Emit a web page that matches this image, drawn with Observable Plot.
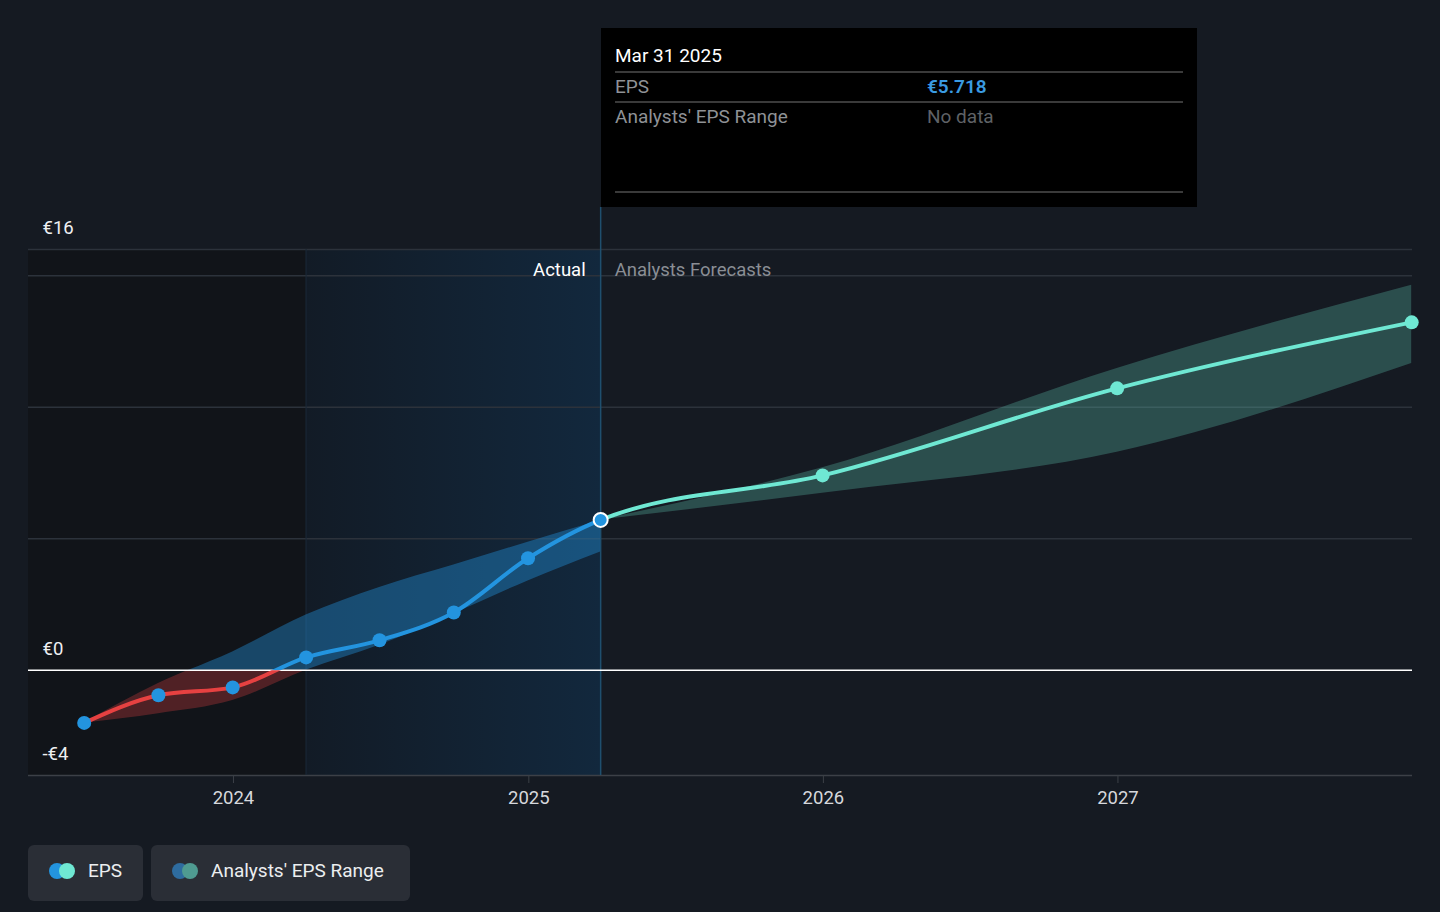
<!DOCTYPE html>
<html><head><meta charset="utf-8">
<script src="https://cdn.jsdelivr.net/npm/d3@7"></script>
<script src="https://cdn.jsdelivr.net/npm/@observablehq/plot@0.6"></script>
<style>
html,body{margin:0;padding:0;background:#151a22;width:1440px;height:912px;overflow:hidden;font-family:Roboto,"Open Sans",sans-serif;}
#chart{position:absolute;left:0;top:0;}
#tip{position:absolute;left:601px;top:28px;width:596px;height:179px;background:#000;}
#tip .t{position:absolute;left:14px;top:27px;transform:translateY(-50%);color:#fff;font-size:19px;}
#tip .hr{position:absolute;left:14px;width:568px;height:2px;background:#3a3a3a;}
#tip .l{position:absolute;left:14px;transform:translateY(-50%);color:#8f9296;font-size:19px;}
#tip .v{position:absolute;left:326px;transform:translateY(-50%);font-size:19px;}
#legend{position:absolute;left:28px;top:845px;display:flex;gap:8px;}
.btn{height:56px;background:#2a2e36;border-radius:6px;display:flex;align-items:center;padding:0 21px 5px 21px;box-sizing:border-box;color:#eceef0;font-size:19px;}
.dots{position:relative;width:26px;height:16px;margin-right:13px;}
.dots span{position:absolute;top:0;width:16px;height:16px;border-radius:50%;}
</style></head>
<body>
<div id="chart"></div>
<div id="tip">
  <div class="t">Mar 31 2025</div>
  <div class="hr" style="top:43px"></div>
  <div class="l" style="top:58px">EPS</div>
  <div class="v" style="top:58px;color:#3a9be2;font-weight:600">€5.718</div>
  <div class="hr" style="top:73px"></div>
  <div class="l" style="top:88px">Analysts' EPS Range</div>
  <div class="v" style="top:88px;color:#5f6266">No data</div>
  <div class="hr" style="top:163px"></div>
</div>
<div id="legend">
  <div class="btn" style="width:115px"><div class="dots"><span style="left:0;background:#2394df"></span><span style="left:10px;background:#6fe8d3"></span></div>EPS</div>
  <div class="btn" style="width:259px"><div class="dots"><span style="left:0;background:#2e6c9f"></span><span style="left:10px;background:#4f9b91"></span></div>Analysts' EPS Range</div>
</div>
<script>
const actualDates = ["2023-06-30","2023-09-30","2023-12-31","2024-03-31","2024-06-30","2024-09-30","2024-12-31","2025-03-31"];
const actualEps = [-2.0, -0.95, -0.65, 0.49, 1.14, 2.2, 4.26, 5.718];
const pastRangeLow = [-2.0, -1.65, -1.15, 0.0, 0.95, 2.15, 3.4, 4.5];
const pastRangeHigh = [-2.0, -0.5, 0.7, 2.1, 3.15, 4.0, 4.87, 5.7];
const forecastDates = ["2025-03-31","2025-12-31","2026-12-31","2027-12-31"];
const forecastEps = [5.718, 7.41, 10.72, 13.23];
const forecastLow = [5.718, 6.73, 8.29, 11.67];
const forecastHigh = [5.718, 7.7, 11.48, 14.64];
const yLabelTicks = [-4, 0, 16];
const yGridTicks = [5, 10, 15, 16];
const xTickDates = ["2024-01-01","2025-01-01","2026-01-01","2027-01-01"];
const domainX = ["2023-04-22","2028-01-01"];
const splitDate = "2025-03-31";
const pastStart = "2024-03-31";

const P = s => new Date(s + "T00:00:00Z");
const actual = actualDates.map((d, i) => ({date: P(d), eps: actualEps[i], lo: pastRangeLow[i], hi: pastRangeHigh[i]}));
const forecast = forecastDates.map((d, i) => ({date: P(d), eps: forecastEps[i], lo: forecastLow[i], hi: forecastHigh[i]}));
const lineAll = actual.concat(forecast.slice(1));
const euro = d => d < 0 ? `-€${-d}` : `€${d}`;

const plot = Plot.plot({
  width: 1440, height: 820,
  marginLeft: 28, marginRight: 28, marginTop: 249, marginBottom: 45,
  style: {background: "transparent", color: "#d6d8dc", fontFamily: "Roboto, sans-serif", fontSize: "18px"},
  x: {type: "utc", domain: domainX.map(P)},
  y: {domain: [-4, 16], axis: null},
  marks: [
    Plot.rect([{a: P(domainX[0]), b: P(pastStart)}], {x1: "a", x2: "b", y1: -4, y2: 16, fill: "#111419"}),
    Plot.rect([{a: P(pastStart), b: P(splitDate)}], {x1: "a", x2: "b", y1: -4, y2: 16, fill: "url(#actGrad)"}),
    Plot.ruleY(yGridTicks, {stroke: "#2c323b", strokeWidth: 1.5}),
    Plot.ruleY([-4], {stroke: "#3c4047", strokeWidth: 1.5}),
    Plot.ruleX([P(pastStart)], {y1: -4, y2: 16, stroke: "#1a2836", strokeWidth: 1}),
    Plot.ruleX([P(splitDate)], {y1: 16, y2: -4, insetTop: -42, stroke: "#1f4f6e", strokeWidth: 1.5}),
    Plot.axisX({ticks: xTickDates.map(P), tickFormat: d3.utcFormat("%Y"), tickSize: 8, tickPadding: 7, stroke: "#3c4047", fill: "#d6d8dc", fontSize: 18.5, label: null}),
    Plot.text(yLabelTicks, {y: d => d, text: euro, frameAnchor: "left", textAnchor: "start", dx: 14, dy: -21, fill: "#eef0f2", fontSize: 18.5}),
    Plot.text(["Actual"], {x: P(splitDate), y: 16, text: d => d, textAnchor: "end", dx: -15, dy: 21, fill: "#ffffff", fontSize: 18.5}),
    Plot.text(["Analysts Forecasts"], {x: P(splitDate), y: 16, text: d => d, textAnchor: "start", dx: 14, dy: 21, fill: "#8a8e95", fontSize: 18.5}),
    Plot.areaY(actual, {x: "date", y1: "lo", y2: "hi", curve: "monotone-x", fill: "#2394df", fillOpacity: 0.4, ariaDescription: "clip-pos"}),
    Plot.areaY(actual, {x: "date", y1: "lo", y2: "hi", curve: "monotone-x", fill: "#e64141", fillOpacity: 0.3, ariaDescription: "clip-neg"}),
    Plot.areaY(forecast, {x: "date", y1: "lo", y2: "hi", curve: "monotone-x", fill: "#5fc7b3", fillOpacity: 0.3}),
    Plot.ruleY([0], {stroke: "#ffffff", strokeWidth: 1.5}),
    Plot.line(lineAll, {x: "date", y: "eps", curve: "monotone-x", stroke: "#2394df", strokeWidth: 4, ariaDescription: "clip-pos"}),
    Plot.line(lineAll, {x: "date", y: "eps", curve: "monotone-x", stroke: "#e64141", strokeWidth: 4, ariaDescription: "clip-neg"}),
    Plot.line(lineAll, {x: "date", y: "eps", curve: "monotone-x", stroke: "#6fe8d3", strokeWidth: 4, ariaDescription: "clip-fc"}),
    Plot.dot(actual.slice(0, -1), {x: "date", y: "eps", r: 7, fill: "#2394df"}),
    Plot.dot(forecast.slice(1), {x: "date", y: "eps", r: 7, fill: "#6fe8d3"}),
    Plot.dot(actual.slice(-1), {x: "date", y: "eps", r: 7, fill: "#2394df", stroke: "#ffffff", strokeWidth: 2})
  ]
});
document.getElementById("chart").appendChild(plot);

const xs = plot.scale("x"), ys = plot.scale("y");
const xSplit = xs.apply(P(splitDate));
const y0 = ys.apply(0);
const svg = d3.select(plot);
const defs = svg.insert("defs", ":first-child");
const g = defs.append("linearGradient").attr("id", "actGrad").attr("x1", 0).attr("x2", 1).attr("y1", 0).attr("y2", 0);
g.append("stop").attr("offset", 0).attr("stop-color", "#121b26");
g.append("stop").attr("offset", 1).attr("stop-color", "#12283d");
const clip = (id, x, y, w, h) => defs.append("clipPath").attr("id", id).append("rect").attr("x", x).attr("y", y).attr("width", w).attr("height", h);
clip("cPos", 0, 0, xSplit, y0);
clip("cNeg", 0, y0, xSplit, 912);
clip("cFc", xSplit, 0, 1440, 912);
svg.selectAll('[aria-description="clip-pos"]').attr("clip-path", "url(#cPos)");
svg.selectAll('[aria-description="clip-neg"]').attr("clip-path", "url(#cNeg)");
svg.selectAll('[aria-description="clip-fc"]').attr("clip-path", "url(#cFc)");
</script>
</body></html>
